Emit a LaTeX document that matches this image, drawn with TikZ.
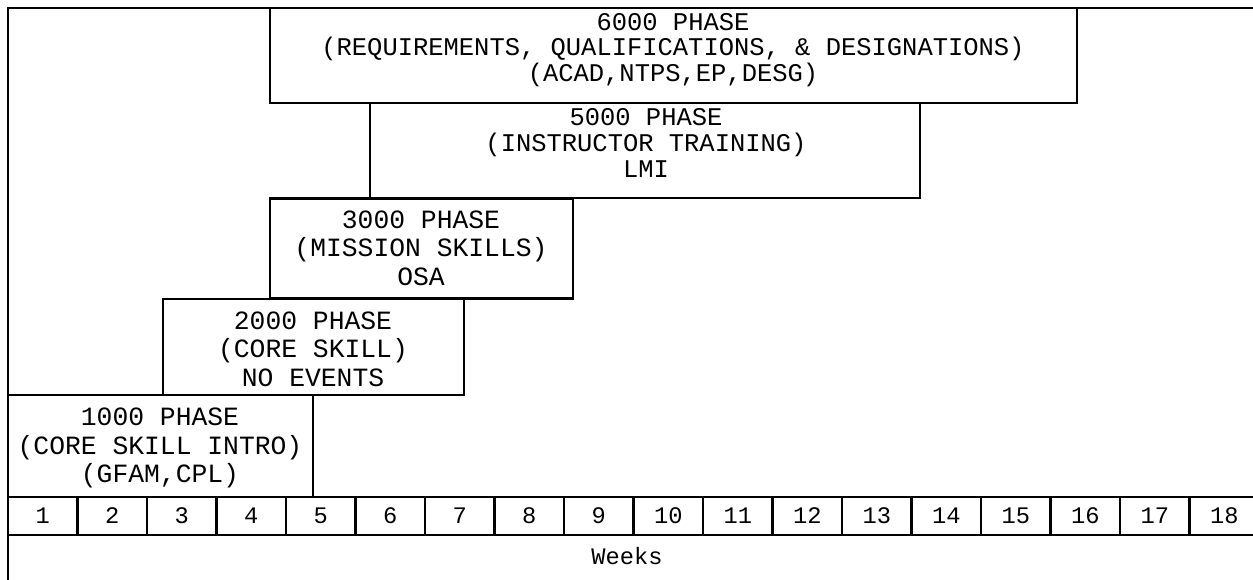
\documentclass[tikz,border=0pt]{standalone}
\usepackage{fontspec}
\setmonofont{Liberation Mono}
\usepackage{tikz}
\usetikzlibrary{positioning}

\begin{document}
\begin{tikzpicture}[x=0.02cm,y=-0.02cm,line width=1.5pt,
  phasebox/.style={draw,rectangle,inner sep=0pt},
  phasetext/.style={align=center,inner sep=0pt,font=\ttfamily\fontsize{15}{16.2}\selectfont},
  tighttext/.style={phasetext,font=\ttfamily\fontsize{14.5}{14.6}\selectfont},
  weekcell/.style={draw,rectangle,inner sep=0pt,minimum width=1.39cm,minimum height=0.76cm,
    font=\ttfamily\fontsize{13.5}{14}\selectfont}]
\clip (0,0) rectangle (1253,580);
\useasboundingbox (0,0) rectangle (1253,580);
% outer frame
\draw (8,600) -- (8,8) -- (1270,8);
% phases
\node[phasebox,minimum width=16.14cm,minimum height=1.9cm] (p6) at (673.5,55.5) {};
\node[tighttext] (t6) at (673,50) {6000 PHASE\\(REQUIREMENTS, QUALIFICATIONS, \& DESIGNATIONS)\\(ACAD,NTPS,EP,DESG)};
\node[phasebox,minimum width=11cm,minimum height=1.9cm] (p5) at (645,150.5) {};
\node[tighttext] (t5) at (646,143) {5000 PHASE\\(INSTRUCTOR TRAINING)\\LMI};
\node[phasebox,minimum width=6.06cm,minimum height=2cm] (p3) at (421.5,248.5) {};
\node[phasetext] (t3) at (421,248) {3000 PHASE\\(MISSION SKILLS)\\OSA};
\node[phasebox,minimum width=6.02cm,minimum height=1.92cm] (p2) at (313.5,347) {};
\node[phasetext] (t2) at (313,349) {2000 PHASE\\(CORE SKILL)\\NO EVENTS};
\node[phasebox,minimum width=6.1cm,minimum height=2.04cm] (p1) at (160.5,446) {};
\node[phasetext] (t1) at (160,448) {1000 PHASE\\(CORE SKILL INTRO)\\(GFAM,CPL)};
% week scale
\foreach \i in {1,...,18}
  \node[weekcell] (w\i) at ({8+69.5*(\i-0.5)},516) {\i};
\node[font=\ttfamily\fontsize{13.5}{14}\selectfont,inner sep=0pt] (weeks) at (627,556) {Weeks};
\end{tikzpicture}
\end{document}
